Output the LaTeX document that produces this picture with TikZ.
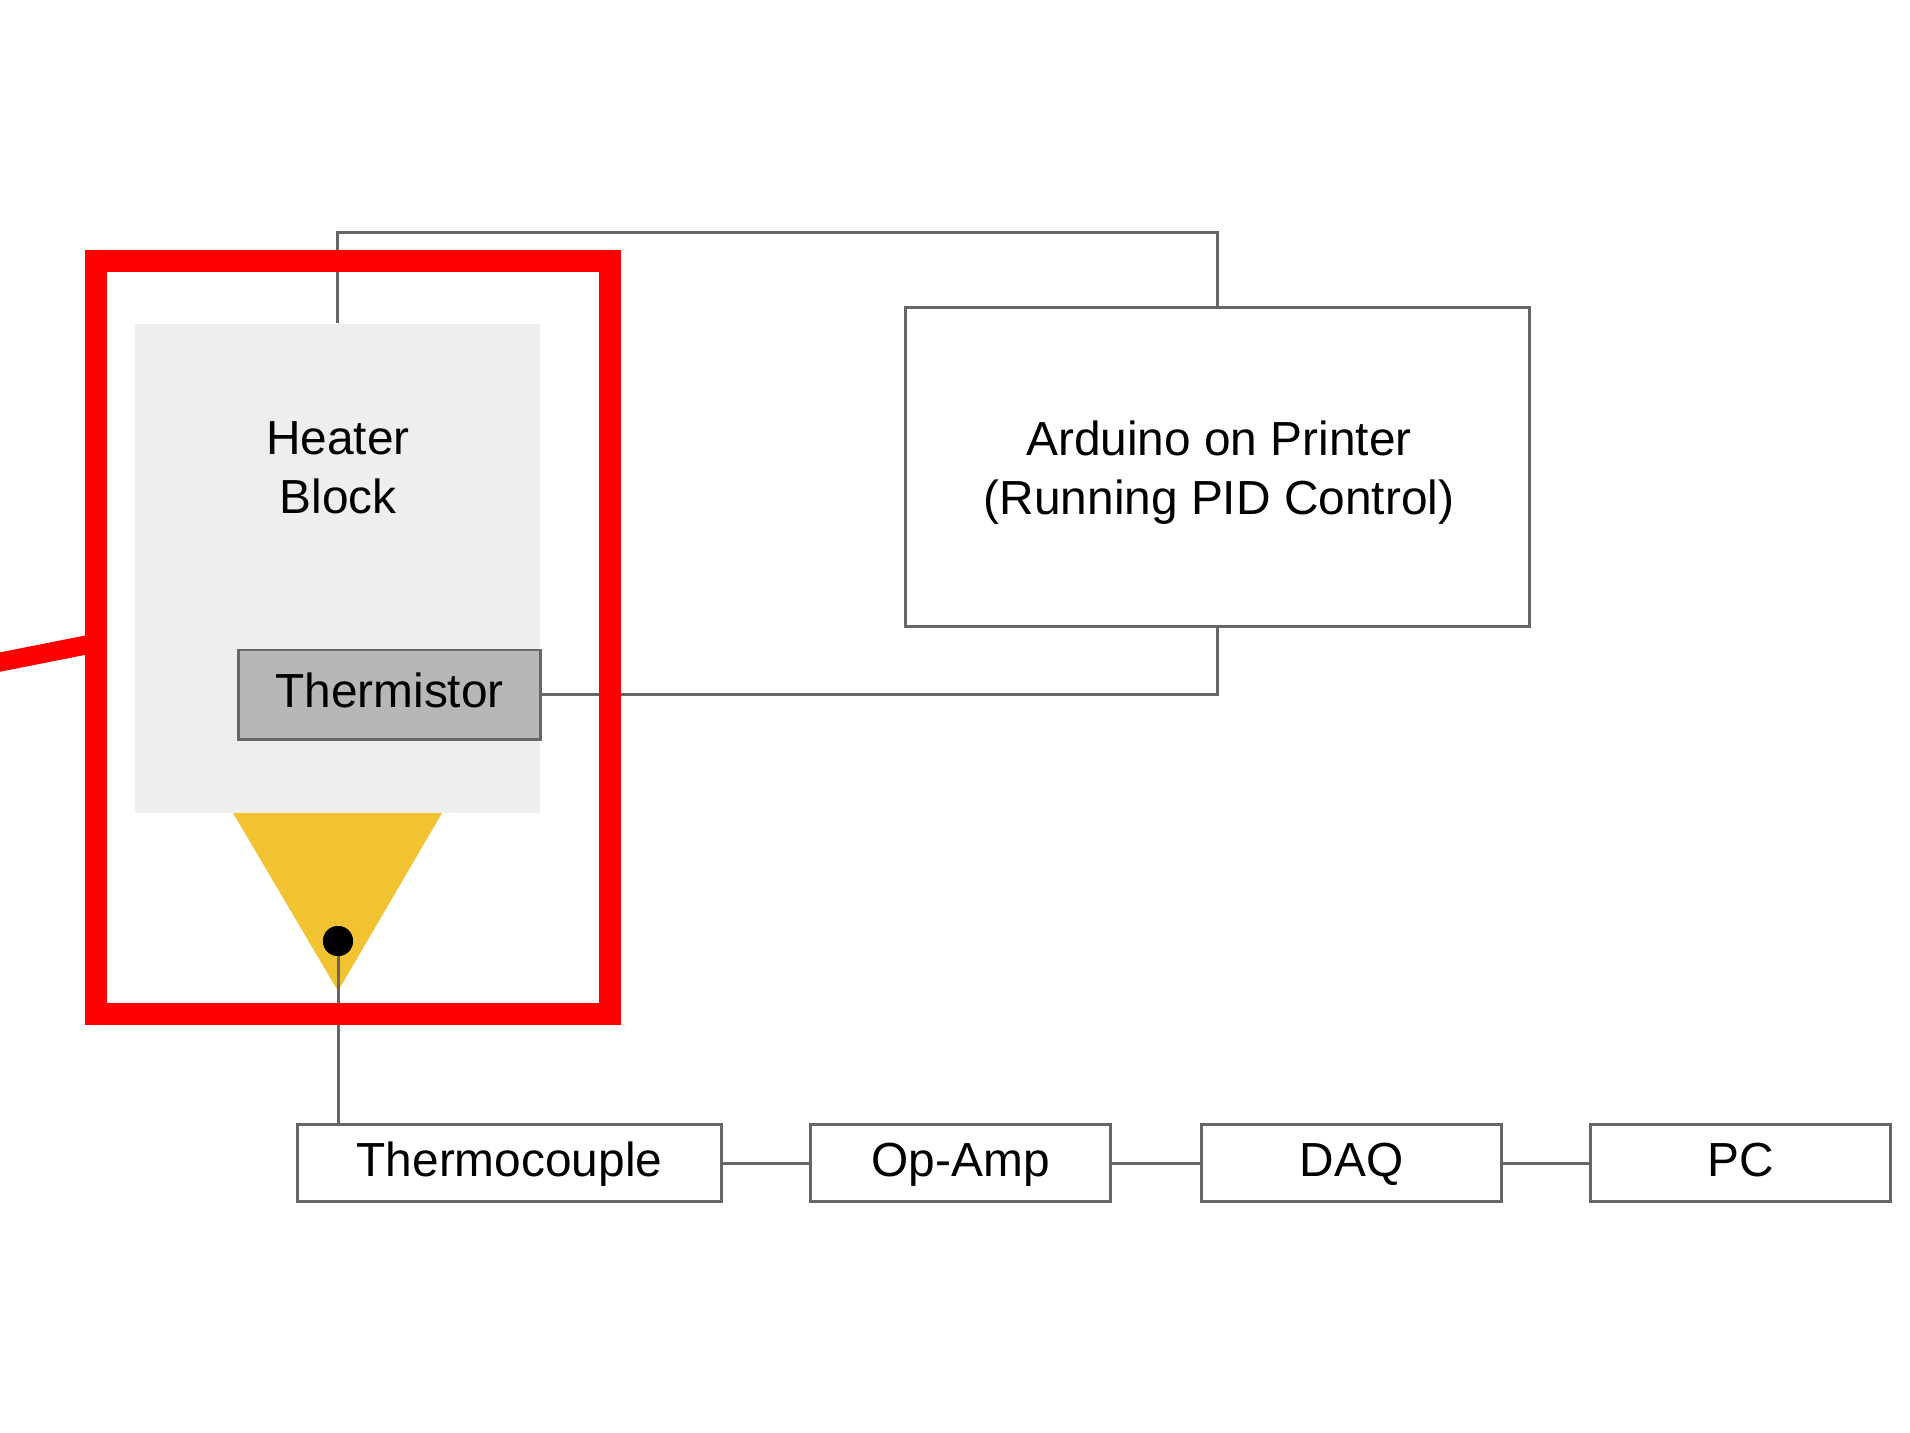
\documentclass[tikz,border=0pt]{standalone}
\usepackage{fontspec}
\setmainfont{Liberation Sans}
\usetikzlibrary{positioning}

\definecolor{wiregray}{HTML}{666666}
\definecolor{blockgray}{HTML}{EEEEEE}
\definecolor{sensorgray}{HTML}{B7B7B7}
\definecolor{nozzle}{HTML}{F1C232}
\definecolor{markred}{HTML}{FF0000}

\newcommand{\txt}{\fontsize{13.6pt}{16.8pt}\selectfont}

\tikzset{
  box/.style={draw=wiregray, line width=0.85pt, fill=white, inner sep=0pt,
    minimum width=3.00cm, minimum height=0.77cm, font=\txt,
    text height=0.76em, text depth=0pt},
  wire/.style={draw=wiregray, line width=0.85pt},
  lbl/.style={inner sep=0pt, font=\txt, align=center},
}

\begin{document}
\begin{tikzpicture}[x=0.01cm,y=-0.01cm]
  \useasboundingbox[fill=white] (0,0) rectangle (1910,1432);

  % hot end
  \node[fill=blockgray, inner sep=0pt, minimum width=4.05cm, minimum height=4.89cm] (heater) at (337.5,568.5) {};
  \node[lbl] (heatertext) at (338,468) {Heater\\Block};
  \node[box, fill=sensorgray, minimum width=3.01cm, minimum height=0.89cm] (thermistor) at (389.5,694.5) {Thermistor};
  \fill[nozzle] (233,813) -- (442,813) -- (338,991) -- cycle;

  % controller
  \node[box, minimum width=6.23cm, minimum height=3.18cm, align=center,
    text height=, text depth=] (arduino) at (1217.5,467) {};
  \node[lbl] (arduinotext) at (1219,473) {Arduino on Printer\\(Running PID Control)};

  % measurement chain
  \node[box, minimum width=4.23cm] (tc) at (509.5,1163) {Thermocouple};
  \node[box, right=0.865cm of tc] (opamp) {Op-Amp};
  \node[box, right=0.875cm of opamp] (daq) {DAQ};
  \node[box, right=0.86cm of daq] (pc) {PC};

  % wires
  \draw[wire] (heater.north) -- ++(0,-91) -| (arduino.north);
  \draw[wire] (thermistor.east) -| (arduino.south);
  \node[circle, fill=black, inner sep=0pt, minimum size=0.30cm] (tip) at (338,941) {};
  \draw[wire] (tip.center) -- (tip.center |- tc.north);
  \node[circle, fill=black, inner sep=0pt, minimum size=0.30cm] at (tip) {};
  \draw[wire] (tc) -- (opamp);
  \draw[wire] (opamp) -- (daq);
  \draw[wire] (daq) -- (pc);

  % highlight
  \draw[markred, line width=6.2pt] (96,261) rectangle (610,1014);
  \draw[markred, line width=5.4pt] (-30,668) -- (96,643);
\end{tikzpicture}
\end{document}
